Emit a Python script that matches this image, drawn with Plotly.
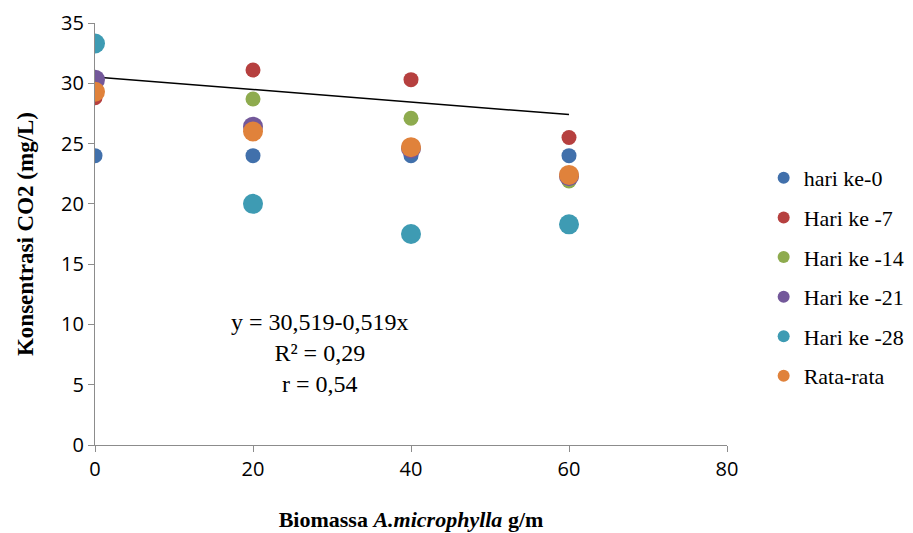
import plotly.graph_objects as go

x_vals = [0, 20, 40, 60]
hari0 = [24.0, 24.0, 24.0, 24.0]
hari7 = [28.8, 31.1, 30.3, 25.5]
hari14 = [30.2, 28.7, 27.1, 21.9]
hari21 = [30.3, 26.4, 24.6, 22.3]
hari28 = [33.3, 20.0, 17.5, 18.3]
rata = [29.3, 26.0, 24.7, 22.4]

series_names = ["hari ke-0", "Hari ke -7", "Hari ke -14", "Hari ke -21", "Hari ke -28", "Rata-rata"]
series_vals = [hari0, hari7, hari14, hari21, hari28, rata]
colors = ["#4170AB", "#B6403F", "#8EAB4E", "#73589A", "#3E9BB3", "#E0823B"]
sizes = [15, 15, 15, 20, 20, 20]

trend_x = [0, 60]
trend_intercept = 30.519
trend_slope = -0.0519

fig = go.Figure()
fig.add_trace(go.Scatter(x=trend_x, y=[trend_intercept + trend_slope * v for v in trend_x],
                         mode="lines", line=dict(color="black", width=1.5),
                         showlegend=False, hoverinfo="skip"))
for i, (name, vals, c, s) in enumerate(zip(series_names, series_vals, colors, sizes)):
    fig.add_trace(go.Scatter(x=x_vals, y=vals, mode="markers", name=name,
                             legendgroup="g%d" % i,
                             marker=dict(color=c, size=s, line=dict(width=0))))

fig.add_annotation(x=28.5, y=7.6, xref="x", yref="y",
                   text="y = 30,519-0,519x<br>R² = 0,29<br>r = 0,54",
                   showarrow=False, align="center",
                   font=dict(family="Liberation Serif", size=24, color="black"))

fig.update_layout(
    width=913, height=533,
    margin=dict(l=87, r=194, t=15, b=96, autoexpand=False),
    paper_bgcolor="white", plot_bgcolor="white",
    font=dict(family="Open Sans", size=20, color="black"),
    legend=dict(x=1.058, xanchor="left", y=0.398, yanchor="middle",
                font=dict(family="Liberation Serif", size=22, color="black"),
                itemsizing="constant", tracegroupgap=8, itemwidth=30,
                bgcolor="rgba(0,0,0,0)"),
    showlegend=True,
)
fig.update_xaxes(range=[0, 80], tickvals=[0, 20, 40, 60, 80], showgrid=False, zeroline=False,
                 showline=True, linecolor="#8C8C8C", linewidth=1.3,
                 ticks="outside", ticklen=6, tickcolor="#8C8C8C",
                 ticklabeloverflow="allow", automargin=False,
                 tickfont=dict(family="Open Sans", size=20),
                 title=dict(text="<b>Biomassa <i>A.microphylla</i> g/m</b>",
                            font=dict(family="Liberation Serif", size=22), standoff=30))
fig.update_yaxes(range=[0, 35], tickvals=[0, 5, 10, 15, 20, 25, 30, 35], showgrid=False, zeroline=False,
                 showline=True, linecolor="#8C8C8C", linewidth=1.3,
                 ticks="outside", ticklen=6, tickcolor="#8C8C8C",
                 ticklabeloverflow="allow", automargin=False,
                 tickfont=dict(family="Open Sans", size=20),
                 title=dict(text="<b>Konsentrasi CO2 (mg/L)</b>",
                            font=dict(family="Liberation Serif", size=23), standoff=20))

fig.write_html("out.html")
